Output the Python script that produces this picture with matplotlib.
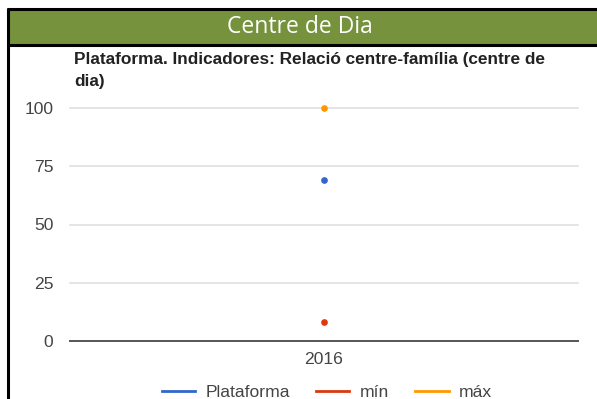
import matplotlib.pyplot as plt
from matplotlib.patches import Rectangle
from matplotlib.lines import Line2D

plt.rcParams['font.family'] = ['Liberation Sans', 'DejaVu Sans']

years = ['2016']
plataforma = [69]
minimo = [8]
maximo = [100]
yticks = [0, 25, 50, 75, 100]

W, H = 597, 399
fig = plt.figure(figsize=(W / 100, H / 100), dpi=100)

def fx(px):
    return px / W

def fy(py):
    return 1 - py / H

# header band and black frame
fig.patches.append(Rectangle((fx(9), fy(44)), fx(W - 9), fy(10) - fy(44),
                             transform=fig.transFigure, color='#76923C', zorder=0))
for (x0, y0, x1, y1) in [(7, 9, W, 9), (7, 45, W, 45), (8, 8, 8, H)]:
    fig.add_artist(Line2D([fx(x0), fx(x1)], [fy(y0), fy(y1)], color='black',
                          lw=2.2, transform=fig.transFigure, solid_capstyle='butt'))
fig.text(fx(300), fy(27), 'Centre de Dia', color='white', fontsize=16.5,
         family=['Open Sans', 'DejaVu Sans'], ha='center', va='center')

fig.text(fx(74), fy(52), 'Plataforma. Indicadores: Relació centre-família (centre de\ndia)',
         fontsize=12.4, fontweight='bold', color='#222222', ha='left', va='top',
         linespacing=1.6)

ax = fig.add_axes([fx(70), fy(341), fx(578) - fx(70), fy(108) - fy(341)])
ax.set_ylim(0, 100)
ax.set_xlim(-1, 1)
ax.set_yticks(yticks)
ax.set_yticklabels([str(v) for v in yticks], fontsize=12.6, color='#444444')
ax.set_xticks([0])
ax.set_xticklabels(years, fontsize=12.6, color='#444444')
ax.tick_params(length=0, axis='y', pad=12)
ax.tick_params(length=0, axis='x', pad=8)
for s in ax.spines.values():
    s.set_visible(False)
for v in yticks[1:]:
    ax.axhline(v, color='#e3e3e3', lw=1.3, zorder=0, clip_on=False)
ax.axhline(0, color='#555555', lw=1.4, zorder=1, clip_on=False)

x = list(range(len(years)))
ax.plot(x, plataforma, 'o', color='#3366CC', ms=3.8, clip_on=False, label='Plataforma')
ax.plot(x, minimo, 'o', color='#DC3912', ms=3.8, clip_on=False, label='mín')
ax.plot(x, maximo, 'o', color='#FF9900', ms=3.8, clip_on=False, label='máx')

handles = [Line2D([], [], color=c, lw=2) for c in ['#3366CC', '#DC3912', '#FF9900']]
fig.legend(handles, ['Plataforma', 'mín', 'máx'], loc='center',
           bbox_to_anchor=(fx(327), fy(392)), ncol=3, frameon=False, fontsize=12.6,
           handlelength=1.9, handletextpad=0.6, columnspacing=1.5,
           labelcolor='#444444')

fig.savefig('out.png', dpi=100)
